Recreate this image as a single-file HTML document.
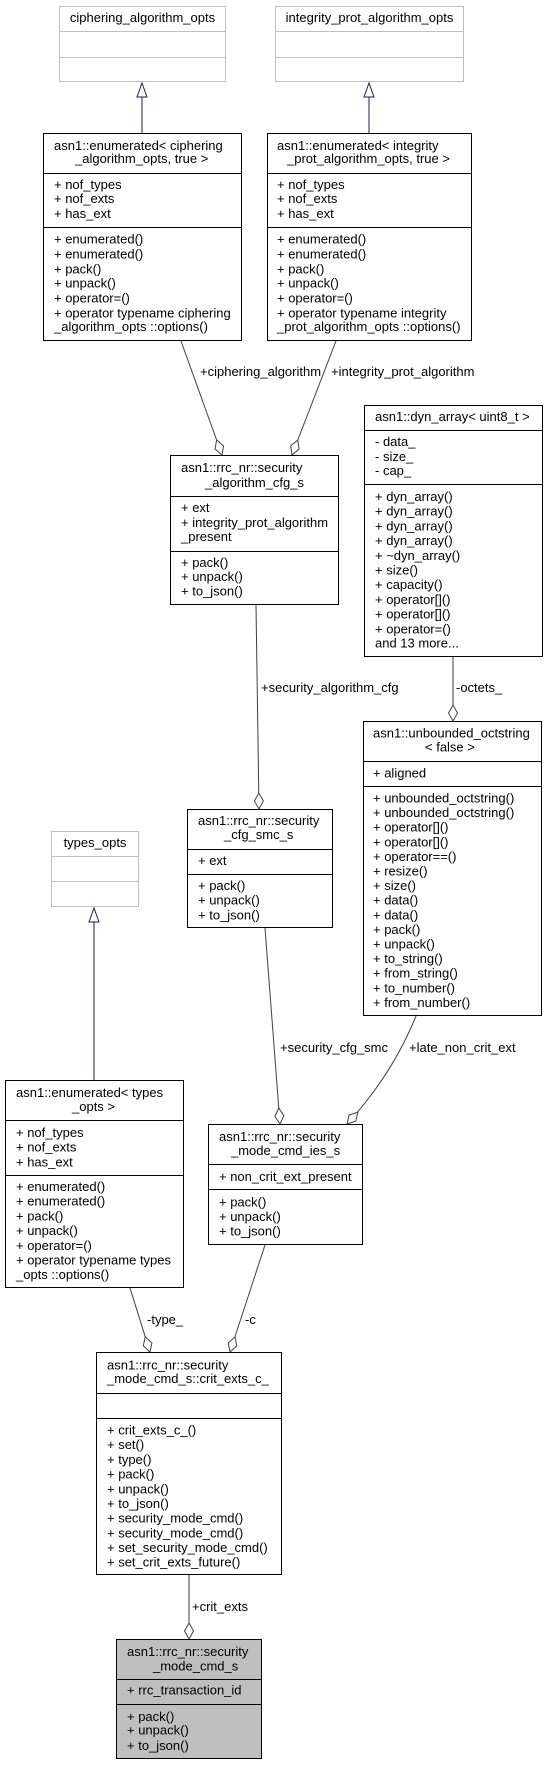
<!DOCTYPE html>
<html><head><meta charset="utf-8"><style>
html,body{margin:0;padding:0;background:#fff;}
svg{display:block;}
text{font-family:"Liberation Sans",Arial,sans-serif;font-size:13px;fill:#000;}
</style></head><body>
<svg width="548" height="1765" viewBox="0 0 548 1765" xmlns="http://www.w3.org/2000/svg">
<defs>
<marker id="dia" markerUnits="userSpaceOnUse" markerWidth="20" markerHeight="12" viewBox="0 -6 20 12" refX="17" refY="0" orient="auto">
<path d="M1,0 L9,-4.5 L17,0 L9,4.5 Z" fill="#fff" stroke="#404040" stroke-width="1"/>
</marker>
<marker id="tri" markerUnits="userSpaceOnUse" markerWidth="16" markerHeight="14" viewBox="0 -7 16 14" refX="15" refY="0" orient="auto">
<path d="M1,-5 L15,0 L1,5 Z" fill="#fff" stroke="#191970" stroke-width="1"/>
</marker>
</defs>

<g fill="none" stroke-width="1">
<!-- inheritance -->
<line x1="142" y1="133" x2="142" y2="83" stroke="#191970" marker-end="url(#tri)"/>
<line x1="369" y1="133" x2="369" y2="83" stroke="#191970" marker-end="url(#tri)"/>
<line x1="94" y1="1080" x2="94" y2="908" stroke="#191970" marker-end="url(#tri)"/>
<!-- aggregations -->
<line x1="181" y1="341" x2="222" y2="455" stroke="#404040" marker-end="url(#dia)"/>
<line x1="336" y1="341" x2="292" y2="455" stroke="#404040" marker-end="url(#dia)"/>
<line x1="256" y1="605" x2="259" y2="809" stroke="#404040" marker-end="url(#dia)"/>
<line x1="453" y1="657" x2="453" y2="721" stroke="#404040" marker-end="url(#dia)"/>
<line x1="265" y1="928" x2="280" y2="1124" stroke="#404040" marker-end="url(#dia)"/>
<path d="M416,1016 Q392,1075 347,1124" stroke="#404040" marker-end="url(#dia)"/>
<line x1="130" y1="1288" x2="150" y2="1352" stroke="#404040" marker-end="url(#dia)"/>
<line x1="265" y1="1245" x2="230" y2="1352" stroke="#404040" marker-end="url(#dia)"/>
<line x1="189" y1="1575" x2="189" y2="1639" stroke="#404040" marker-end="url(#dia)"/>
</g>

<!-- edge labels -->
<text x="200" y="376">+ciphering_algorithm</text>
<text x="331" y="376">+integrity_prot_algorithm</text>
<text x="261" y="692">+security_algorithm_cfg</text>
<text x="456" y="692">-octets_</text>
<text x="280" y="1052">+security_cfg_smc</text>
<text x="409" y="1052">+late_non_crit_ext</text>
<text x="147" y="1324">-type_</text>
<text x="245" y="1324">-c</text>
<text x="192" y="1611">+crit_exts</text>

<g fill="#fff" stroke="#bfbfbf" stroke-width="1">
<rect x="59.5" y="6.5" width="166" height="75"/>
<line x1="59.5" y1="31.5" x2="225.5" y2="31.5"/><line x1="59.5" y1="57.5" x2="225.5" y2="57.5"/>
<rect x="275.5" y="6.5" width="188" height="75"/>
<line x1="275.5" y1="31.5" x2="463.5" y2="31.5"/><line x1="275.5" y1="57.5" x2="463.5" y2="57.5"/>
<rect x="51.5" y="831.5" width="87" height="75"/>
<line x1="51.5" y1="856.5" x2="138.5" y2="856.5"/><line x1="51.5" y1="881.5" x2="138.5" y2="881.5"/>
</g>
<text x="142.5" y="22" text-anchor="middle">ciphering_algorithm_opts</text>
<text x="369.5" y="22" text-anchor="middle">integrity_prot_algorithm_opts</text>
<text x="95" y="847" text-anchor="middle">types_opts</text>

<g fill="#fff" stroke="#000" stroke-width="1">
<rect x="43.5" y="133.5" width="198" height="207"/>
<line x1="43.5" y1="173.5" x2="241.5" y2="173.5"/><line x1="43.5" y1="227.5" x2="241.5" y2="227.5"/>
<rect x="267.5" y="133.5" width="204" height="207"/>
<line x1="267.5" y1="173.5" x2="471.5" y2="173.5"/><line x1="267.5" y1="227.5" x2="471.5" y2="227.5"/>
<rect x="170.5" y="455.5" width="168" height="149"/>
<line x1="170.5" y1="496.5" x2="338.5" y2="496.5"/><line x1="170.5" y1="551.5" x2="338.5" y2="551.5"/>
<rect x="364.5" y="405.5" width="178" height="251"/>
<line x1="364.5" y1="430.5" x2="542.5" y2="430.5"/><line x1="364.5" y1="484.5" x2="542.5" y2="484.5"/>
<rect x="363.5" y="721.5" width="178" height="294"/>
<line x1="363.5" y1="761.5" x2="541.5" y2="761.5"/><line x1="363.5" y1="786.5" x2="541.5" y2="786.5"/>
<rect x="187.5" y="809.5" width="145" height="118"/>
<line x1="187.5" y1="849.5" x2="332.5" y2="849.5"/><line x1="187.5" y1="874.5" x2="332.5" y2="874.5"/>
<rect x="5.5" y="1080.5" width="178" height="207"/>
<line x1="5.5" y1="1120.5" x2="183.5" y2="1120.5"/><line x1="5.5" y1="1175.5" x2="183.5" y2="1175.5"/>
<rect x="208.5" y="1124.5" width="154" height="120"/>
<line x1="208.5" y1="1164.5" x2="362.5" y2="1164.5"/><line x1="208.5" y1="1189.5" x2="362.5" y2="1189.5"/>
<rect x="96.5" y="1352.5" width="185" height="222"/>
<line x1="96.5" y1="1393.5" x2="281.5" y2="1393.5"/><line x1="96.5" y1="1418.5" x2="281.5" y2="1418.5"/>
<rect x="116.5" y="1639.5" width="145" height="119" fill="#bfbfbf"/>
<line x1="116.5" y1="1679.5" x2="261.5" y2="1679.5"/><line x1="116.5" y1="1704.5" x2="261.5" y2="1704.5"/>
</g>

<!-- cipher enum -->
<text x="54" y="150">asn1::enumerated&lt; ciphering</text>
<text x="75" y="163">_algorithm_opts, true &gt;</text>
<text x="54" y="189">+ nof_types</text>
<text x="54" y="203">+ nof_exts</text>
<text x="54" y="218">+ has_ext</text>
<text x="54" y="243.5">+ enumerated()</text>
<text x="54" y="258.5">+ enumerated()</text>
<text x="54" y="273.5">+ pack()</text>
<text x="54" y="287.5">+ unpack()</text>
<text x="54" y="302.5">+ operator=()</text>
<text x="54" y="317.5">+ operator typename ciphering</text>
<text x="54" y="331">_algorithm_opts ::options()</text>
<!-- integrity enum -->
<text x="277" y="150">asn1::enumerated&lt; integrity</text>
<text x="287" y="163">_prot_algorithm_opts, true &gt;</text>
<text x="277" y="189">+ nof_types</text>
<text x="277" y="203">+ nof_exts</text>
<text x="277" y="218">+ has_ext</text>
<text x="277" y="243.5">+ enumerated()</text>
<text x="277" y="258.5">+ enumerated()</text>
<text x="277" y="273.5">+ pack()</text>
<text x="277" y="287.5">+ unpack()</text>
<text x="277" y="302.5">+ operator=()</text>
<text x="277" y="317.5">+ operator typename integrity</text>
<text x="277" y="331">_prot_algorithm_opts ::options()</text>
<!-- security_algorithm_cfg_s -->
<text x="181" y="472">asn1::rrc_nr::security</text>
<text x="205" y="487">_algorithm_cfg_s</text>
<text x="181" y="512">+ ext</text>
<text x="181" y="527">+ integrity_prot_algorithm</text>
<text x="181" y="541">_present</text>
<text x="181" y="567">+ pack()</text>
<text x="181" y="581">+ unpack()</text>
<text x="181" y="595.5">+ to_json()</text>
<!-- dyn_array -->
<text x="375" y="421">asn1::dyn_array&lt; uint8_t &gt;</text>
<text x="375" y="446">- data_</text>
<text x="375" y="461">- size_</text>
<text x="375" y="475">- cap_</text>
<text x="375" y="501">+ dyn_array()</text>
<text x="375" y="515.7">+ dyn_array()</text>
<text x="375" y="530.4">+ dyn_array()</text>
<text x="375" y="545.1">+ dyn_array()</text>
<text x="375" y="559.8">+ ~dyn_array()</text>
<text x="375" y="574.5">+ size()</text>
<text x="375" y="589.2">+ capacity()</text>
<text x="375" y="603.9">+ operator[]()</text>
<text x="375" y="618.6">+ operator[]()</text>
<text x="375" y="633.3">+ operator=()</text>
<text x="375" y="647.5">and 13 more...</text>
<!-- unbounded_octstring -->
<text x="373" y="737.5">asn1::unbounded_octstring</text>
<text x="425" y="751.5">&lt; false &gt;</text>
<text x="373" y="777.5">+ aligned</text>
<text x="373" y="802.5">+ unbounded_octstring()</text>
<text x="373" y="817.1">+ unbounded_octstring()</text>
<text x="373" y="831.7">+ operator[]()</text>
<text x="373" y="846.3">+ operator[]()</text>
<text x="373" y="860.9">+ operator==()</text>
<text x="373" y="875.5">+ resize()</text>
<text x="373" y="890.1">+ size()</text>
<text x="373" y="904.7">+ data()</text>
<text x="373" y="919.3">+ data()</text>
<text x="373" y="933.9">+ pack()</text>
<text x="373" y="948.5">+ unpack()</text>
<text x="373" y="963.1">+ to_string()</text>
<text x="373" y="977.7">+ from_string()</text>
<text x="373" y="992.3">+ to_number()</text>
<text x="373" y="1007">+ from_number()</text>
<!-- security_cfg_smc_s -->
<text x="198" y="825">asn1::rrc_nr::security</text>
<text x="224" y="839">_cfg_smc_s</text>
<text x="198" y="865">+ ext</text>
<text x="198" y="890">+ pack()</text>
<text x="198" y="904.6">+ unpack()</text>
<text x="198" y="919.3">+ to_json()</text>
<!-- enum types -->
<text x="16" y="1097">asn1::enumerated&lt; types</text>
<text x="72" y="1111">_opts &gt;</text>
<text x="16" y="1137">+ nof_types</text>
<text x="16" y="1151.7">+ nof_exts</text>
<text x="16" y="1166.4">+ has_ext</text>
<text x="16" y="1191">+ enumerated()</text>
<text x="16" y="1205.7">+ enumerated()</text>
<text x="16" y="1220.4">+ pack()</text>
<text x="16" y="1235.1">+ unpack()</text>
<text x="16" y="1249.8">+ operator=()</text>
<text x="16" y="1264.5">+ operator typename types</text>
<text x="16" y="1279">_opts ::options()</text>
<!-- ies -->
<text x="219" y="1141">asn1::rrc_nr::security</text>
<text x="231" y="1155">_mode_cmd_ies_s</text>
<text x="219" y="1181">+ non_crit_ext_present</text>
<text x="219" y="1206.5">+ pack()</text>
<text x="219" y="1221">+ unpack()</text>
<text x="219" y="1235.5">+ to_json()</text>
<!-- crit_exts_c_ -->
<text x="107" y="1369.5">asn1::rrc_nr::security</text>
<text x="107" y="1383">_mode_cmd_s::crit_exts_c_</text>
<text x="107" y="1434.5">+ crit_exts_c_()</text>
<text x="107" y="1449.2">+ set()</text>
<text x="107" y="1463.9">+ type()</text>
<text x="107" y="1478.6">+ pack()</text>
<text x="107" y="1493.3">+ unpack()</text>
<text x="107" y="1508">+ to_json()</text>
<text x="107" y="1522.7">+ security_mode_cmd()</text>
<text x="107" y="1537.4">+ security_mode_cmd()</text>
<text x="107" y="1552.1">+ set_security_mode_cmd()</text>
<text x="107" y="1566.5">+ set_crit_exts_future()</text>
<!-- bottom -->
<text x="127" y="1656">asn1::rrc_nr::security</text>
<text x="153" y="1670.5">_mode_cmd_s</text>
<text x="127" y="1694.5">+ rrc_transaction_id</text>
<text x="127" y="1721">+ pack()</text>
<text x="127" y="1734.5">+ unpack()</text>
<text x="127" y="1750">+ to_json()</text>
</svg>
</body></html>
